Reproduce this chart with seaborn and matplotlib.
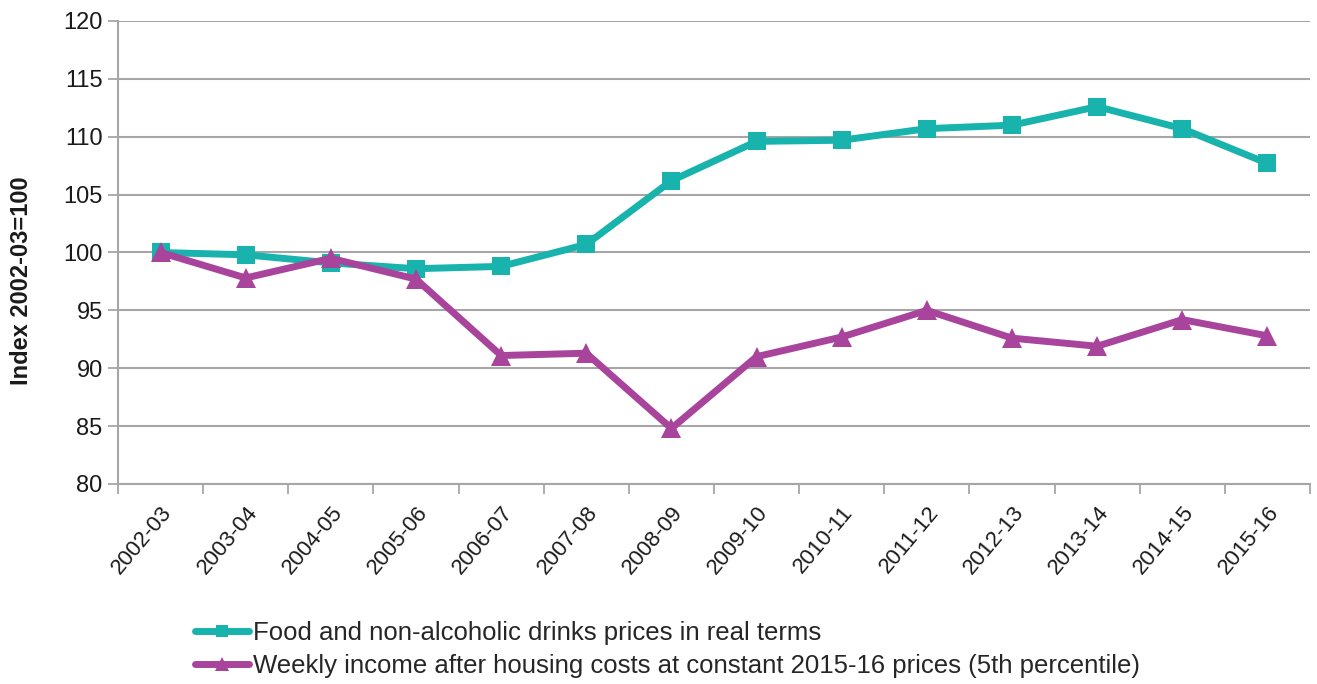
import matplotlib
matplotlib.use("Agg")
import matplotlib.pyplot as plt
import seaborn as sns
import pandas as pd
import numpy as np
from matplotlib.lines import Line2D
from matplotlib.ticker import FixedLocator

years = ["2002-03", "2003-04", "2004-05", "2005-06", "2006-07", "2007-08", "2008-09",
         "2009-10", "2010-11", "2011-12", "2012-13", "2013-14", "2014-15", "2015-16"]
food_prices = [100.0, 99.8, 99.1, 98.6, 98.8, 100.7, 106.2,
               109.6, 109.7, 110.7, 111.0, 112.6, 110.7, 107.7]
weekly_income = [100.0, 97.8, 99.5, 97.7, 91.1, 91.3, 84.8,
                 91.0, 92.7, 95.0, 92.6, 91.9, 94.2, 92.8]
food_label = "Food and non-alcoholic drinks prices in real terms"
income_label = "Weekly income after housing costs at constant 2015-16 prices (5th percentile)"
yticks = [80, 85, 90, 95, 100, 105, 110, 115, 120]

teal = "#17B3AC"
purple = "#A9449C"
grid_grey = "#A6A6A6"
text_col = "#1a1a1a"

sns.set_theme(style="white")
plt.rcParams["font.family"] = ["Liberation Sans", "DejaVu Sans"]

df = pd.DataFrame({"pos": np.arange(len(years)), "food": food_prices, "income": weekly_income})

fig = plt.figure(figsize=(13.17, 6.84), dpi=100)
ax = fig.add_axes([0.0896, 0.2924, 0.9051, 0.6769])

sns.lineplot(data=df, x="pos", y="food", ax=ax, color=teal, linewidth=5,
             marker="s", markersize=13.5, markeredgewidth=0, sort=False)
sns.lineplot(data=df, x="pos", y="income", ax=ax, color=purple, linewidth=5,
             marker="^", markersize=14.5, markeredgewidth=0, sort=False)

ax.set_xlim(-0.5, len(years) - 0.5)
ax.set_ylim(80, 120)
ax.set_yticks(yticks)
ax.set_yticklabels([str(v) for v in yticks], fontsize=17, color=text_col)
ax.set_xticks(np.arange(len(years)))
ax.set_xticklabels(years, rotation=50, ha="right", rotation_mode="anchor", fontsize=16, color=text_col)
ax.xaxis.set_minor_locator(FixedLocator(np.arange(-0.5, len(years), 1.0)))
ax.tick_params(axis="x", which="major", length=0, pad=13)
ax.tick_params(axis="x", which="minor", length=7, width=1.3, color=grid_grey, bottom=True)
ax.tick_params(axis="y", which="major", length=7, width=1.3, color=grid_grey, left=True, pad=4)
ax.yaxis.grid(True, color=grid_grey, linewidth=1.5)
ax.set_axisbelow(True)
for side in ["top", "right"]:
    ax.spines[side].set_visible(False)
for side in ["left", "bottom"]:
    ax.spines[side].set_color(grid_grey)
    ax.spines[side].set_linewidth(1.5)

ax.set_xlabel("")
ax.set_ylabel("Index 2002-03=100", fontsize=17, fontweight="bold", color=text_col)
ax.yaxis.set_label_coords(-0.071, 0.44)

# legend entries with a thick line and a small marker
legend_handles = [
    Line2D([], [], color=teal, linewidth=5, marker="s", markersize=9, markeredgewidth=0),
    Line2D([], [], color=purple, linewidth=5, marker="^", markersize=10, markeredgewidth=0),
]
fig.legend(legend_handles, [food_label, income_label], loc="upper left",
           bbox_to_anchor=(0.148, 0.092), frameon=False,
           fontsize=18.5, handlelength=2.1, handletextpad=0.15, labelspacing=0.35,
           borderaxespad=0, borderpad=0)

fig.savefig("out.png", dpi=100)
